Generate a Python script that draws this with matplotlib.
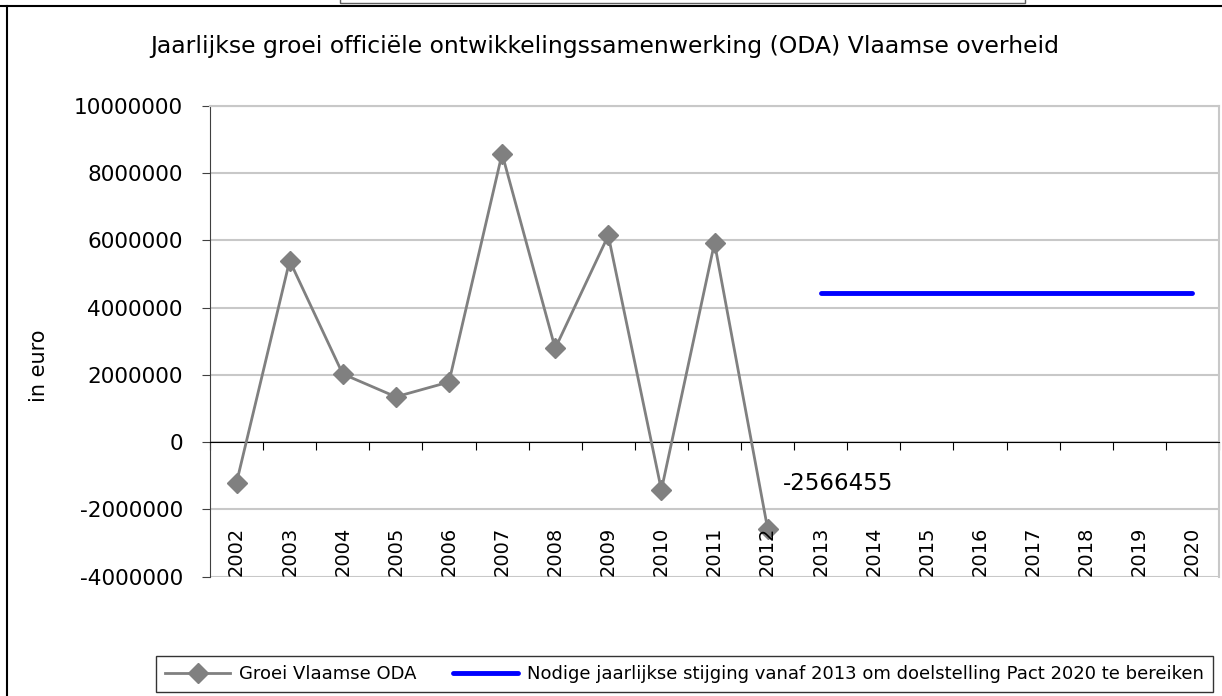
import matplotlib
matplotlib.use('Agg')
import matplotlib.pyplot as plt
from matplotlib.lines import Line2D
from matplotlib.patches import Rectangle

years = [str(y) for y in range(2002, 2021)]
groei_years = years[:11]
groei = [-1200000, 5400000, 2030000, 1350000, 1790000, 8580000,
         2790000, 6150000, -1420000, 5930000, -2566455]
doel_years = years[11:]
doel = [4430000] * len(doel_years)

title = 'Jaarlijkse groei officiële ontwikkelingssamenwerking (ODA) Vlaamse overheid'
ylabel = 'in euro'
label_groei = 'Groei Vlaamse ODA'
label_doel = 'Nodige jaarlijkse stijging vanaf 2013 om doelstelling Pact 2020 te bereiken'
yticks = list(range(-4000000, 10000001, 2000000))

plt.rcParams['font.family'] = 'DejaVu Sans'

W, H = 1222, 696
fig = plt.figure(figsize=(W / 100, H / 100), dpi=100)
ax = fig.add_axes([210 / W, 119.3 / H, 1009 / W, 470.7 / H])

xs = {y: i for i, y in enumerate(years)}
ax.plot([xs[y] for y in groei_years], groei, color='#808080', lw=2,
        marker='D', ms=10, mec='#808080', mfc='#808080', label=label_groei, zorder=3)
ax.plot([xs[y] for y in doel_years], doel, color='#0000ff', lw=3.5,
        solid_capstyle='round', label=label_doel, zorder=3)

ax.set_xlim(-0.5, len(years) - 0.5)
ax.set_ylim(yticks[0], yticks[-1])
ax.set_yticks(yticks)
ax.set_yticklabels([str(v) for v in yticks], fontsize=15.6)
ax.grid(axis='y', color='#c8c8c8', lw=1.5)
ax.set_axisbelow(True)

# category axis crosses at zero, labels low
ax.spines['bottom'].set_position(('data', 0))
ax.spines['bottom'].set_color('black')
ax.set_xticks([i - 0.5 for i in range(len(years) + 1)])
ax.set_xticklabels([])
ax.tick_params(axis='x', direction='out', length=6, color='black')
ax.tick_params(axis='y', direction='out', length=6, color='#404040', pad=13.5)
ax.spines['left'].set_color('#404040')
for s in ('top', 'right'):
    ax.spines[s].set_color('#c8c8c8')
    ax.spines[s].set_linewidth(1.5)
for i, y in enumerate(years):
    ax.text(i, yticks[0] + 30000, y, rotation=90, ha='center', va='bottom', fontsize=14)

ax.annotate(str(groei[-1]), (xs[groei_years[-1]], groei[-1]), xytext=(15, 45),
            textcoords='offset pixels', ha='left', va='center', fontsize=16.5)

fig.text(39 / W, 1 - 366 / H, ylabel, rotation=90, ha='center', va='center', fontsize=15)
fig.text(605 / W, 1 - 47 / H, title, ha='center', va='center', fontsize=16.9)

leg = fig.legend(loc='center', bbox_to_anchor=(684.5 / W, 1 - 674 / H), ncol=2,
                 fontsize=13, frameon=True, fancybox=False, edgecolor='black',
                 handlelength=3.6, handletextpad=0.5, columnspacing=2.0,
                 borderpad=0.5, borderaxespad=0)
leg.get_frame().set_linewidth(1)

# outer frame lines
fig.add_artist(Line2D([0, 1], [1 - 6 / H] * 2, color='black', lw=1.5))
fig.add_artist(Line2D([7 / W] * 2, [0, 1 - 6 / H], color='black', lw=1.5))
fig.add_artist(Rectangle((340 / W, 1 - 3 / H), 685 / W, 10 / H, fill=False,
                         edgecolor='#606060', lw=1))

fig.savefig('out.png', dpi=100)
